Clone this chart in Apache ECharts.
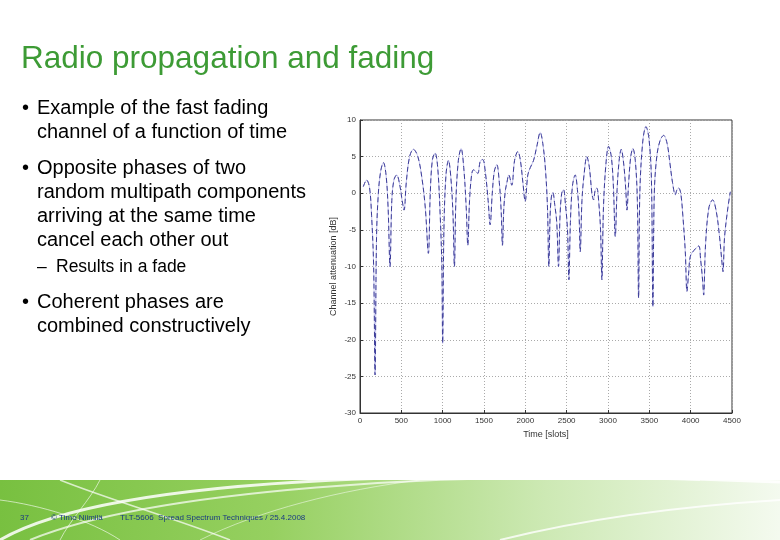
<!DOCTYPE html>
<html>
<head>
<meta charset="utf-8">
<script src="https://cdn.jsdelivr.net/npm/echarts@6/dist/echarts.min.js"></script>
<style>
html,body{margin:0;padding:0;background:#fff;}
#c{width:780px;height:540px;}
</style>
</head>
<body>
<div id="c"></div>
<script>
var title = 'Radio propagation and fading';
var bullet1 = ['Example of the fast fading', 'channel of a function of time'];
var bullet2 = ['Opposite phases of two', 'random multipath components', 'arriving at the same time', 'cancel each other out'];
var subBullet = 'Results in a fade';
var bullet3 = ['Coherent phases are', 'combined constructively'];
var footer = ['37', '© Timo Niimilä', 'TLT-5606  Spread Spectrum Techniques / 25.4.2008'];

var xTicks = [0, 500, 1000, 1500, 2000, 2500, 3000, 3500, 4000, 4500];
var yTicks = [-30, -25, -20, -15, -10, -5, 0, 5, 10];
var xName = 'Time [slots]';
var yName = 'Channel attenuation [dB]';

var times = [40,80,115,140,165,182,200,222,250,283,315,340,363,385,410,444,480,510,533,560,600,646,700,750,790,827,850,875,908,940,970,990,1000,1015,1040,1070,1100,1125,1142,1160,1190,1223,1255,1285,1304,1325,1350,1372,1400,1425,1455,1485,1515,1550,1574,1600,1625,1655,1685,1708,1723,1740,1760,1776,1800,1836,1870,1909,1940,1970,1998,2030,2060,2100,2139,2180,2215,2245,2268,2284,2300,2315,2333,2355,2380,2401,2420,2440,2462,2485,2510,2527,2545,2570,2603,2630,2650,2664,2685,2710,2744,2775,2805,2825,2845,2865,2890,2910,2926,2945,2975,3007,3040,3065,3088,3110,3135,3160,3190,3215,3229,3250,3275,3301,3330,3355,3370,3385,3420,3459,3495,3525,3543,3560,3590,3630,3673,3715,3750,3780,3814,3835,3855,3880,3905,3935,3955,3975,3996,4040,4097,4120,4145,4157,4180,4220,4266,4310,4350,4375,4391,4410,4450,4480];
var atten = [0.9,1.8,0.8,-3,-10,-24.8,-6,0,3,4.2,2.5,-2,-10,-1,1.8,2.5,1.2,-1,-2.3,1.5,5,6,5,2,-2,-8.2,0,4.5,5.5,3.5,-3,-10,-20.5,-5,2.5,4.5,2,-3,-10,-1,4.5,6.1,3.5,-2,-7.1,-1,2.5,3.2,3,2.7,4.4,4.6,3,-1,-4.3,0,3,3.9,1.5,-2.5,-7.1,-2,0.5,1.4,2.5,1.1,4.5,5.7,4.5,1.5,-1.1,2.5,3.5,4.5,6.4,8.3,6.5,3,-2,-10,-3,-0.5,0.1,-1.5,-4,-10,-3,0,0.5,-1.5,-5,-11.8,-4,1,2.5,0.5,-3,-8,-1,2.5,5,3.5,0,-0.9,0.4,0.7,-1.5,-5,-11.8,-2,4,6.4,5,1,-5.9,0.5,4.5,6,4,0.5,-2.3,1.5,5,6.1,4.5,-1,-14.3,0,7,9.1,7.5,2,-15.5,0,5,7.2,7.9,6.8,4,1.5,-0.2,0.5,0.7,0,-3,-8,-13.4,-11,-8.6,-7.8,-7.2,-9,-12,-13.9,-7,-2,-0.9,-2.5,-6,-9,-10.7,-6,-2,0.2];

var data = times.map(function(t, i){ return [t, atten[i]]; });

var chart = echarts.init(document.getElementById('c'));

var bodyFont = '"Liberation Sans", Arial, sans-serif';
var texts = [];
texts.push({type:'text', left:21, top:43, style:{text:title, font:'31.5px ' + bodyFont, fill:'#3d9b35'}});
function line(x, y, s, size){ texts.push({type:'text', left:x, top:y, style:{text:s, font:size + 'px ' + bodyFont, fill:'#000'}}); }
function block(y, lines){
  line(22, y, '•', 20);
  lines.forEach(function(s, i){ line(37, y + i*24, s, 20); });
}
block(98, bullet1);
block(158, bullet2);
line(37, 258, '–', 17.5); line(56, 258, subBullet, 17.5);
block(292, bullet3);

var footerGroup = [
  {type:'rect', shape:{x:0, y:480, width:780, height:60}, silent:true,
   style:{fill:new echarts.graphic.LinearGradient(0,0,1,0.3,[
     {offset:0, color:'#78c040'},{offset:0.35, color:'#96d060'},{offset:0.7, color:'#cde9b4'},{offset:1, color:'#f4faef'}])}},
  {type:'bezierCurve', shape:{x1:0, y1:540, x2:780, y2:482, cpx1:120, cpy1:470, cpx2:500, cpy2:470}, style:{stroke:'rgba(255,255,255,0.85)', lineWidth:3, fill:null}},
  {type:'bezierCurve', shape:{x1:30, y1:540, x2:700, y2:480, cpx1:150, cpy1:490, cpx2:450, cpy2:470}, style:{stroke:'rgba(255,255,255,0.7)', lineWidth:2, fill:null}},
  {type:'bezierCurve', shape:{x1:60, y1:480, x2:230, y2:540, cpx1:110, cpy1:500, cpx2:180, cpy2:520}, style:{stroke:'rgba(255,255,255,0.7)', lineWidth:1.5, fill:null}},
  {type:'bezierCurve', shape:{x1:0, y1:500, x2:120, y2:540, cpx1:40, cpy1:505, cpx2:90, cpy2:520}, style:{stroke:'rgba(255,255,255,0.6)', lineWidth:1, fill:null}},
  {type:'bezierCurve', shape:{x1:100, y1:480, x2:60, y2:540, cpx1:90, cpy1:500, cpx2:70, cpy2:520}, style:{stroke:'rgba(255,255,255,0.6)', lineWidth:1, fill:null}},
  {type:'bezierCurve', shape:{x1:200, y1:540, x2:420, y2:480, cpx1:260, cpy1:510, cpx2:340, cpy2:490}, style:{stroke:'rgba(255,255,255,0.5)', lineWidth:1, fill:null}},
  {type:'bezierCurve', shape:{x1:500, y1:540, x2:780, y2:500, cpx1:600, cpy1:515, cpx2:700, cpy2:505}, style:{stroke:'rgba(255,255,255,0.8)', lineWidth:2, fill:null}},
  {type:'text', left:20, top:514, style:{text:footer[0], font:'8px ' + bodyFont, fill:'#1a3a80'}},
  {type:'text', left:51, top:514, style:{text:footer[1], font:'8px ' + bodyFont, fill:'#1a3a80'}},
  {type:'text', left:120, top:514, style:{text:footer[2], font:'8px ' + bodyFont, fill:'#1a3a80'}}
];

var axisCommon = {
  nameLocation:'middle',
  nameTextStyle:{fontSize:9, color:'#333', fontFamily:bodyFont},
  axisLine:{show:true, onZero:false, lineStyle:{color:'#333'}},
  axisTick:{inside:true, length:3, lineStyle:{color:'#333'}},
  axisLabel:{fontSize:8, color:'#333', margin:4, fontFamily:bodyFont, formatter:function(v){ return String(v); }},
  splitLine:{show:true, lineStyle:{type:[1,2], color:'#aaa'}}
};

var option = {
  backgroundColor:'#fff',
  animation:false,
  grid:{left:360, right:48, top:120, bottom:127, show:true, borderColor:'#333', borderWidth:1, backgroundColor:'#fff'},
  xAxis:Object.assign({}, axisCommon, {type:'value', min:xTicks[0], max:xTicks[xTicks.length-1], interval:500, name:xName, nameGap:12}),
  yAxis:Object.assign({}, axisCommon, {type:'value', min:yTicks[0], max:yTicks[yTicks.length-1], interval:5, name:yName, nameGap:22}),
  series:[
    {type:'line', data:data, showSymbol:false, smooth:0.35, silent:true,
     lineStyle:{color:'#c4c4ee', width:1}},
    {type:'line', data:data, showSymbol:false, smooth:0.35, silent:true,
     lineStyle:{color:'#3c3c98', width:1, type:[5,3]}}
  ],
  graphic:footerGroup.concat(texts)
};
chart.setOption(option);
</script>
</body>
</html>
